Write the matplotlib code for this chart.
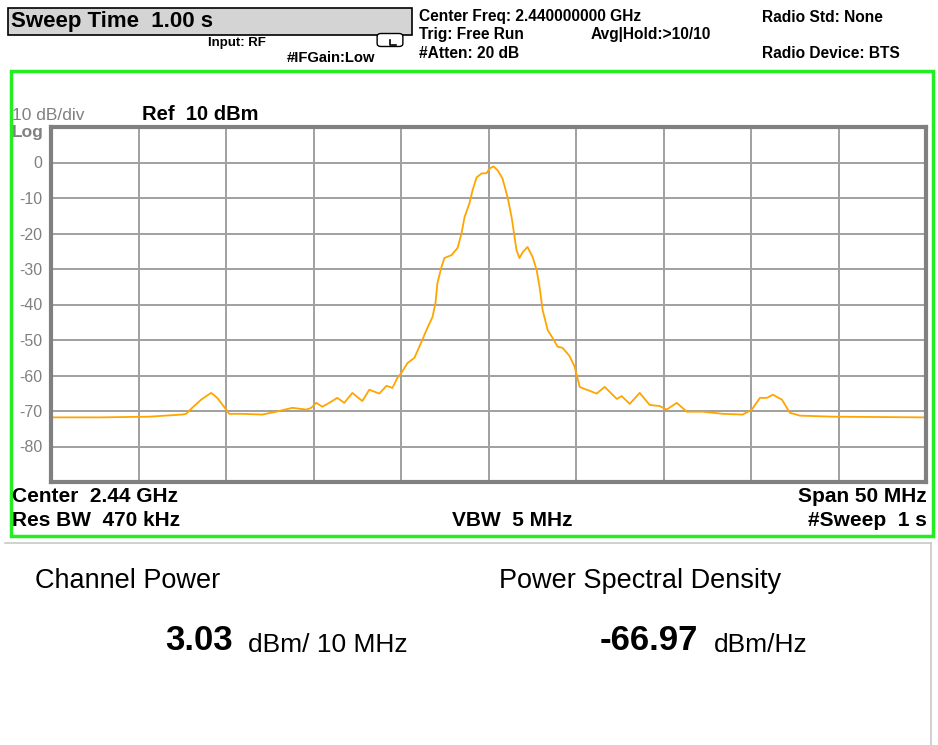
import matplotlib
matplotlib.use("Agg")
import matplotlib.pyplot as plt
from matplotlib.patches import Rectangle, FancyBboxPatch
from matplotlib.lines import Line2D
import numpy as np

# ---- data ----
freq_mhz = [2415.00, 2417.75, 2420.61, 2422.49, 2422.72, 2423.07, 2423.58, 2424.15, 2424.50,
            2425.01, 2425.18, 2425.93, 2427.07, 2427.87, 2428.79, 2429.59, 2429.87, 2430.16,
            2430.50, 2430.90, 2431.36, 2431.76, 2432.22, 2432.79, 2433.19, 2433.76, 2434.17,
            2434.51, 2434.79, 2435.02, 2435.37, 2435.77, 2436.17, 2436.51, 2436.80, 2436.97,
            2437.08, 2437.31, 2437.48, 2437.88, 2438.23, 2438.46, 2438.63, 2438.91, 2439.09,
            2439.32, 2439.60, 2439.89, 2440.06, 2440.29, 2440.52, 2440.80, 2441.09, 2441.32,
            2441.49, 2441.60, 2441.77, 2441.95, 2442.23, 2442.52, 2442.75, 2442.92, 2443.09,
            2443.38, 2443.66, 2443.95, 2444.23, 2444.63, 2444.92, 2445.21, 2445.49, 2445.78,
            2446.18, 2446.64, 2447.33, 2447.61, 2448.07, 2448.64, 2449.21, 2449.78, 2450.18,
            2450.76, 2451.33, 2452.24, 2453.39, 2454.53, 2455.05, 2455.51, 2455.91, 2456.25,
            2456.77, 2457.22, 2457.79, 2459.68, 2465.00]
power_dbm = [-71.8, -71.8, -71.6, -71.0, -70.8, -69.1, -66.8, -64.9, -66.3,
             -69.6, -70.8, -70.8, -71.0, -70.2, -69.1, -69.6, -69.1, -67.7,
             -68.8, -67.7, -66.3, -67.7, -64.9, -67.2, -64.0, -65.1, -62.9,
             -63.5, -60.7, -59.3, -56.5, -55.0, -50.5, -46.6, -43.5, -39.6,
             -34.0, -29.5, -26.9, -26.1, -24.1, -19.9, -15.4, -11.5, -7.8,
             -4.2, -3.1, -3.0, -1.7, -1.1, -2.2, -4.5, -9.8, -15.4,
             -21.0, -24.7, -26.9, -25.3, -23.8, -26.6, -30.3, -35.1, -41.5,
             -47.2, -49.4, -51.9, -52.2, -54.5, -57.5, -63.2, -63.8, -64.3,
             -65.1, -63.2, -66.6, -65.8, -68.0, -64.9, -68.3, -68.6, -69.6,
             -67.7, -70.2, -70.2, -70.8, -71.0, -69.6, -66.3, -66.3, -65.4,
             -66.8, -70.5, -71.3, -71.6, -71.8]
y_ticks = [0, -10, -20, -30, -40, -50, -60, -70, -80]
y_ticklabels = ["0", "-10", "-20", "-30", "-40", "-50", "-60", "-70", "-80"]
x_grid = [2415, 2420, 2425, 2430, 2435, 2440, 2445, 2450, 2455, 2460, 2465]

W, H = 938, 745
fig = plt.figure(figsize=(W / 100, H / 100), dpi=100)
fig.patch.set_facecolor("white")

NARROW = ["Liberation Sans Narrow", "Liberation Sans", "DejaVu Sans"]
SANS = ["Liberation Sans", "DejaVu Sans"]


def fx(x):
    return x / W


def fy(y):
    return 1 - y / H


def txt(x, y, s, size, weight="normal", color="black", ha="left", family=NARROW):
    fig.text(fx(x), fy(y), s, fontsize=size, fontweight=weight, color=color,
             ha=ha, va="center", family=family)


# ---- header ----
fig.add_artist(Rectangle((fx(8), fy(35)), fx(412 - 8), (35 - 8) / H,
                         transform=fig.transFigure, facecolor="#d4d4d4",
                         edgecolor="black", lw=1.2))
txt(11, 21, "Sweep Time  1.00 s", 16, "bold", family=SANS)
txt(208, 43, "Input: RF", 9.5, "bold")
txt(287, 58, "#IFGain:Low", 10.6, "bold")
fig.add_artist(FancyBboxPatch((fx(379), fy(45)), fx(22), 10 / H,
                              boxstyle="round,pad=0.002,rounding_size=0.004",
                              transform=fig.transFigure, facecolor="white",
                              edgecolor="black", lw=1.0))
fig.add_artist(Line2D([fx(390), fx(390), fx(396)], [fy(40), fy(45), fy(45)],
                      transform=fig.transFigure, color="black", lw=1.2))
txt(419, 17, "Center Freq: 2.440000000 GHz", 11.2, "bold")
txt(419, 35, "Trig: Free Run", 11.2, "bold")
txt(591, 35, "Avg|Hold:>10/10", 11.2, "bold")
txt(419, 53, "#Atten: 20 dB", 11.2, "bold")
txt(762, 17, "Radio Std: None", 11.2, "bold")
txt(762, 54, "Radio Device: BTS", 11.2, "bold")

# ---- green frame ----
fig.add_artist(Rectangle((fx(11), fy(536)), fx(933 - 11), (536 - 71) / H,
                         transform=fig.transFigure, facecolor="none",
                         edgecolor="#22ee22", lw=2.5))

# ---- axes ----
x0, x1 = 51, 926
y0, y1 = 127, 482
ax = fig.add_axes([fx(x0), fy(y1), (x1 - x0) / W, (y1 - y0) / H])
ax.set_xlim(2415, 2465)
ax.set_ylim(-90, 10)
ax.set_xticks(x_grid)
ax.set_yticks(y_ticks)
ax.set_yticklabels(y_ticklabels)
ax.set_xticklabels([])
ax.tick_params(length=0, labelsize=11.5, labelcolor="#808080", pad=6)
for lab in ax.get_yticklabels():
    lab.set_family(SANS)
ax.grid(True, color="#a0a0a0", lw=1.4)
ax.set_axisbelow(True)
for sp in ax.spines.values():
    sp.set_color("#808080")
    sp.set_linewidth(3)
ax.plot(freq_mhz, power_dbm, color="#ffa500", lw=1.3)

txt(12, 116, "10 dB/div", 12.5, color="#808080", family=SANS)
txt(12, 133, "Log", 12.5, "bold", color="#808080", family=SANS)
txt(142, 114, "Ref  10 dBm", 14.5, "bold", family=SANS)

txt(12, 496, "Center  2.44 GHz", 15, "bold")
txt(12, 520, "Res BW  470 kHz", 15, "bold")
txt(512, 520, "VBW  5 MHz", 15, "bold", ha="center")
txt(927, 496, "Span 50 MHz", 15, "bold", ha="right")
txt(927, 520, "#Sweep  1 s", 15, "bold", ha="right")

# ---- lower panel ----
fig.add_artist(Line2D([fx(5), fx(931)], [fy(543), fy(543)], transform=fig.transFigure,
                      color="#c8c8c8", lw=1.2))
fig.add_artist(Line2D([fx(931), fx(931)], [fy(543), fy(745)], transform=fig.transFigure,
                      color="#c8c8c8", lw=1.2))
txt(35, 581, "Channel Power", 19.5, family=NARROW)
txt(499, 581, "Power Spectral Density", 19.5, family=NARROW)
txt(165, 641, "3.03", 25, "bold", family=NARROW)
txt(248, 645, "dBm/ 10 MHz", 19, family=NARROW)
txt(600, 641, "-66.97", 25, "bold", family=NARROW)
txt(714, 645, "dBm/Hz", 19, family=NARROW)

fig.savefig("out.png", dpi=100, facecolor="white")
